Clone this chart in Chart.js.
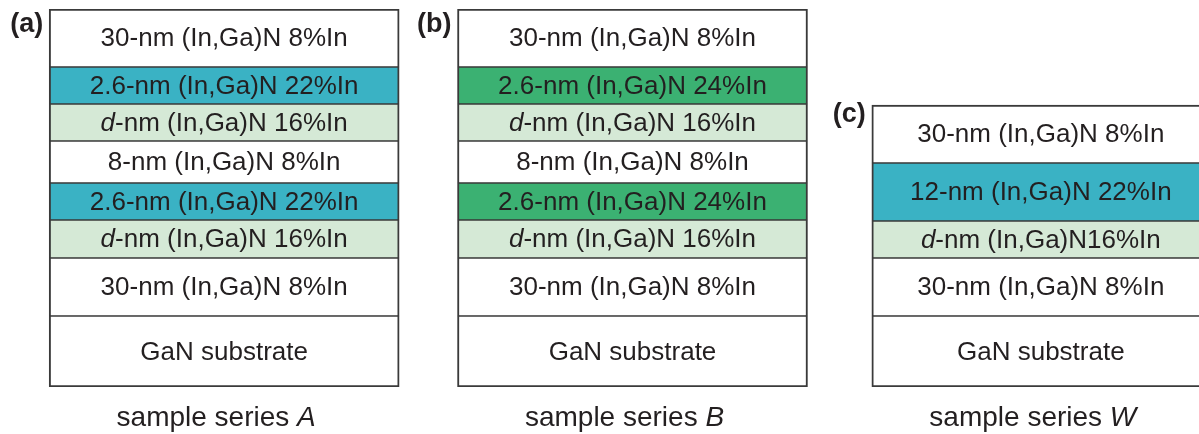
<!DOCTYPE html>
<html>
<head>
<meta charset="utf-8">
<script src="https://cdn.jsdelivr.net/npm/chart.js@4"></script>
<style>
  html, body { margin: 0; padding: 0; background: #fff; overflow: hidden; }
  canvas { display: block; }
</style>
</head>
<body>
<canvas id="stackChart" width="1250" height="434"></canvas>
<script>
const panelTags = ["(a)", "(b)", "(c)"];
const seriesLetters = ["A", "B", "W"];

// layers listed from the substrate (bottom) up to the top cap
const layersA = [
  "GaN substrate",
  "30-nm (In,Ga)N 8%In",
  "d-nm (In,Ga)N 16%In",
  "2.6-nm (In,Ga)N 22%In",
  "8-nm (In,Ga)N 8%In",
  "d-nm (In,Ga)N 16%In",
  "2.6-nm (In,Ga)N 22%In",
  "30-nm (In,Ga)N 8%In",
];
const layersB = [
  "GaN substrate",
  "30-nm (In,Ga)N 8%In",
  "d-nm (In,Ga)N 16%In",
  "2.6-nm (In,Ga)N 24%In",
  "8-nm (In,Ga)N 8%In",
  "d-nm (In,Ga)N 16%In",
  "2.6-nm (In,Ga)N 24%In",
  "30-nm (In,Ga)N 8%In",
];
const layersW = [
  "GaN substrate",
  "30-nm (In,Ga)N 8%In",
  "d-nm (In,Ga)N16%In",
  "12-nm (In,Ga)N 22%In",
  "30-nm (In,Ga)N 8%In",
];

// drawn height of each layer in the sketch (not to scale)
const heightA = [71, 58, 38, 37, 42, 37, 37, 58];
const heightB = [71, 58, 38, 37, 42, 37, 37, 58];
const heightW = [71, 58, 37, 58, 58];

const panelLayers = [layersA, layersB, layersW];
const panelHeights = [heightA, heightB, heightW];

const TEXT = "#231f20";
const FONT = "'Liberation Sans', Arial, sans-serif";

// fill colour follows the indium content of the layer
function fillFor(name) {
  if (name.includes("22%")) return "#3ab2c4";
  if (name.includes("24%")) return "#3bb172";
  if (name.includes("16%")) return "#d5e9d6";
  return "#ffffff";
}

const datasets = [];
panelLayers.forEach((layers, p) => {
  let base = 0;
  layers.forEach((name, i) => {
    const top = base + panelHeights[p][i];
    const data = [null, null, null];
    data[p] = [base, top];
    datasets.push({
      label: name,
      data: data,
      panel: p,
      backgroundColor: fillFor(name),
      borderColor: "#3a3a3a",
      borderWidth: {
        left: 2,
        right: 2,
        top: i === layers.length - 1 ? 2 : 1,
        bottom: i === 0 ? 2 : 1,
      },
      borderSkipped: false,
      barThickness: p === 2 ? 338 : 350,
    });
    base = top;
  });
});

// draws text where a leading part may be italic
function drawParts(ctx, parts, cx, cy, size) {
  let total = 0;
  parts.forEach((pt) => {
    ctx.font = `${pt.italic ? "italic " : ""}${size}px ${FONT}`;
    pt.w = ctx.measureText(pt.t).width;
    total += pt.w;
  });
  let x = cx - total / 2;
  parts.forEach((pt) => {
    ctx.font = `${pt.italic ? "italic " : ""}${size}px ${FONT}`;
    ctx.fillText(pt.t, x, cy);
    x += pt.w;
  });
}

const labelPlugin = {
  id: "layerLabels",
  afterDatasetsDraw(chart) {
    const ctx = chart.ctx;
    ctx.save();
    ctx.fillStyle = TEXT;
    ctx.textAlign = "left";
    ctx.textBaseline = "middle";

    chart.data.datasets.forEach((ds, di) => {
      const el = chart.getDatasetMeta(di).data[ds.panel];
      if (!el) return;
      const cy = (el.y + el.base) / 2 + 1;
      let parts;
      if (ds.label.startsWith("d-")) {
        parts = [{ t: "d", italic: true }, { t: ds.label.slice(1) }];
      } else {
        parts = [{ t: ds.label }];
      }
      drawParts(ctx, parts, el.x, cy, 26);
    });

    const yScale = chart.scales.y;
    panelLayers.forEach((layers, p) => {
      const metaTop = chart.getDatasetMeta(
        chart.data.datasets.findIndex((d) => d.panel === p) + layers.length - 1
      );
      const topEl = metaTop.data[p];
      const left = topEl.x - topEl.width / 2;
      const topY = topEl.y;

      ctx.font = `bold 27px ${FONT}`;
      ctx.textAlign = "right";
      ctx.fillText(panelTags[p], left - 6, topY + (p === 2 ? 10 : 16));

      ctx.textAlign = "left";
      drawParts(
        ctx,
        [{ t: "sample series " }, { t: seriesLetters[p], italic: true }],
        topEl.x - 8,
        yScale.getPixelForValue(0) + 31,
        28
      );
    });
    ctx.restore();
  },
};

new Chart(document.getElementById("stackChart"), {
  type: "bar",
  data: { labels: seriesLetters, datasets: datasets },
  options: {
    responsive: false,
    animation: false,
    layout: { padding: { left: 20, right: 5, top: 9, bottom: 47 } },
    datasets: { bar: { grouped: false } },
    scales: {
      x: { type: "category", display: false, offset: true },
      y: { min: 0, max: 378, display: false },
    },
    plugins: {
      legend: { display: false },
      tooltip: { enabled: false },
    },
  },
  plugins: [labelPlugin],
});
</script>
</body>
</html>
